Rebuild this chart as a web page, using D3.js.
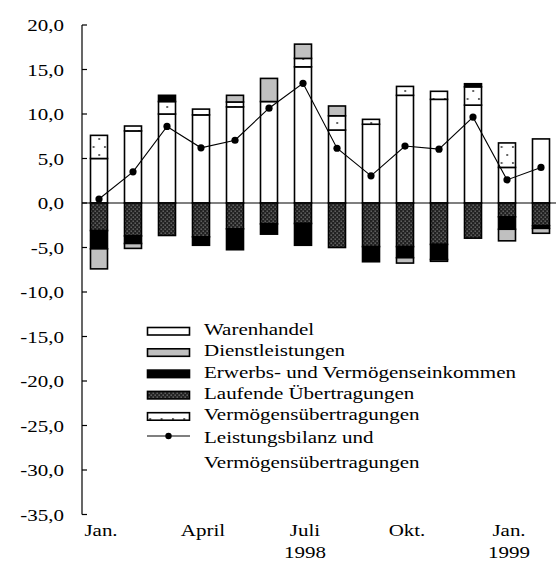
<!DOCTYPE html>
<html>
<head>
<meta charset="utf-8">
<script src="https://cdn.jsdelivr.net/npm/d3@7"></script>
<style>
  body { margin: 0; background: #fff; }
  text { font-family: "Liberation Serif", "Times New Roman", serif; font-size: 17.5px; fill: #000; }
</style>
</head>
<body>
<div id="chart"></div>
<script>
// months Jan 1998 - Feb 1999
var months = ["Jan 98","Feb 98","Mär 98","Apr 98","Mai 98","Jun 98","Jul 98","Aug 98","Sep 98","Okt 98","Nov 98","Dez 98","Jan 99","Feb 99"];

// Mrd DM
var warenhandel   = [5.0, 8.1, 10.0, 9.9, 10.8, 11.4, 15.3, 8.2, 8.85, 12.1, 11.65, 11.0, 4.0, 7.2];
var vermoegen     = [2.6, 0.55, 1.4, 0.65, 0.55, 0, 0.95, 1.6, 0.55, 1.0, 0.9, 2.05, 2.75, 0];
var laufende      = [-3.1, -3.7, -3.65, -3.8, -2.9, -2.35, -2.3, -5.0, -4.9, -4.9, -4.65, -3.95, -1.55, -2.55];
var erwerbs       = [-2.05, -0.85, 0.7, -0.95, -2.35, -1.15, -2.45, 0, -1.7, -1.25, -1.7, 0.35, -1.4, -0.3];
var dienst        = [-2.25, -0.55, 0, 0, 0.75, 2.6, 1.6, 1.1, 0, -0.6, -0.2, 0, -1.3, -0.55];
var saldo         = [0.45, 3.5, 8.6, 6.2, 7.05, 10.65, 13.45, 6.15, 3.05, 6.4, 6.05, 9.65, 2.6, 4.0];

var yTicks = [20, 15, 10, 5, 0, -5, -10, -15, -20, -25, -30, -35];
var tickMonths = ["Jan 98","Apr 98","Jul 98","Okt 98","Jan 99"];
var tickText   = ["Jan.","April","Juli","Okt.","Jan."];
var yearMonths = ["Jul 98","Jan 99"];
var yearText   = ["1998","1999"];

var legendNames = ["Warenhandel","Dienstleistungen","Erwerbs- und Vermögenseinkommen","Laufende Übertragungen","Vermögensübertragungen"];
var legendKeys  = ["waren","dienst","erw","lauf","verm"];

var width = 556, height = 564;
var svg = d3.select("#chart").append("svg")
    .attr("width", width).attr("height", height);

var defs = svg.append("defs");
// dark dotted pattern for Laufende Übertragungen
var pl = defs.append("pattern").attr("id", "pLauf")
    .attr("patternUnits", "userSpaceOnUse").attr("width", 4).attr("height", 4);
pl.append("rect").attr("width", 4).attr("height", 4).attr("fill", "#222");
pl.append("rect").attr("x", 0.6).attr("y", 0.6).attr("width", 1.1).attr("height", 1.1).attr("fill", "#9a9a9a");
pl.append("rect").attr("x", 2.6).attr("y", 2.6).attr("width", 1.1).attr("height", 1.1).attr("fill", "#9a9a9a");
// sparse dots for Vermögensübertragungen
var pv = defs.append("pattern").attr("id", "pVerm")
    .attr("patternUnits", "userSpaceOnUse").attr("width", 34 / 3).attr("height", 16)
    .attr("x", 92.6).attr("y", 2);
pv.append("rect").attr("width", 34 / 3).attr("height", 16).attr("fill", "#fff");
pv.append("rect").attr("x", 0).attr("y", 0).attr("width", 2).attr("height", 2).attr("fill", "#666");
pv.append("rect").attr("x", 17 / 3).attr("y", 8).attr("width", 2).attr("height", 2).attr("fill", "#666");

var fills = { waren: "#fff", verm: "url(#pVerm)", lauf: "url(#pLauf)", erw: "#000", dienst: "#c0c0c0" };

var x = d3.scaleBand().domain(months).range([82, 558]).paddingInner(0.5).paddingOuter(0.25);
var y = d3.scaleLinear().domain([-35, 20]).range([514.5, 25]);

// scaled serif label (source type is a bit wider than Times)
function label(g, px, py, txt, anchor) {
  g.append("text")
    .attr("transform", "translate(" + px + "," + py + ") scale(1.2,1)")
    .attr("text-anchor", anchor || "start")
    .text(txt);
}

// y axis
var ax = svg.append("g");
ax.append("line").attr("x1", 82).attr("x2", 82).attr("y1", y(20)).attr("y2", y(-35))
    .attr("stroke", "#000").attr("stroke-width", 1.2);
yTicks.forEach(function(t) {
  ax.append("line").attr("x1", 82).attr("x2", 87).attr("y1", y(t)).attr("y2", y(t))
    .attr("stroke", "#000").attr("stroke-width", 1.2);
  label(ax, 64, y(t) + 6, d3.format(".1f")(t).replace(".", ",").replace("−", "-"), "end");
});

// zero line with ticks between months
ax.append("line").attr("x1", 82).attr("x2", 556).attr("y1", y(0)).attr("y2", y(0))
    .attr("stroke", "#000").attr("stroke-width", 1.2);
months.forEach(function(m, i) {
  if (i == 0) return;
  var bx = x(m) - x.step() * x.paddingInner() / 2 - x.bandwidth() / 2;
  ax.append("line").attr("x1", bx).attr("x2", bx).attr("y1", y(0)).attr("y2", y(0) + 3)
    .attr("stroke", "#000").attr("stroke-width", 1);
});

// stacked bars
var table = months.map(function(m, i) {
  return { month: m, waren: warenhandel[i], verm: vermoegen[i], lauf: laufende[i], erw: erwerbs[i], dienst: dienst[i] };
});
var series = d3.stack().keys(["waren","verm","lauf","erw","dienst"])
    .offset(d3.stackOffsetDiverging)(table);

svg.append("g").selectAll("g")
  .data(series)
  .enter().append("g")
    .attr("fill", function(s) { return fills[s.key]; })
  .selectAll("rect")
  .data(function(s) { return s.filter(function(d) { return Math.abs(d[1] - d[0]) > 0.001; }); })
  .enter().append("rect")
    .attr("x", function(d) { return x(d.data.month); })
    .attr("width", x.bandwidth())
    .attr("y", function(d) { return y(Math.max(d[0], d[1])); })
    .attr("height", function(d) { return Math.abs(y(d[0]) - y(d[1])); })
    .attr("stroke", "#000").attr("stroke-width", 1.6);

// line
var line = d3.line()
    .x(function(d, i) { return x(months[i]) + x.bandwidth() / 2; })
    .y(function(d) { return y(d); });
svg.append("path").datum(saldo).attr("d", line)
    .attr("fill", "none").attr("stroke", "#000").attr("stroke-width", 1.1);
svg.append("g").selectAll("circle").data(saldo).enter().append("circle")
    .attr("cx", function(d, i) { return x(months[i]) + x.bandwidth() / 2; })
    .attr("cy", function(d) { return y(d); })
    .attr("r", 3.6).attr("fill", "#000");

// x labels
var xl = svg.append("g");
tickMonths.forEach(function(m, i) {
  label(xl, x(m) + x.bandwidth() / 2 + 2, 536, tickText[i], "middle");
});
yearMonths.forEach(function(m, i) {
  label(xl, x(m) + x.bandwidth() / 2 + 2, 558, yearText[i], "middle");
});

// legend
var lg = svg.append("g");
legendKeys.forEach(function(k, i) {
  var by = 335 + i * 21.3;
  lg.append("rect").attr("x", 147.5).attr("y", by - 7.5).attr("width", 42).attr("height", 7.5)
    .attr("fill", fills[k]).attr("stroke", "#000").attr("stroke-width", 1.6);
  label(lg, 204, by, legendNames[i]);
});
lg.append("line").attr("x1", 147).attr("x2", 190).attr("y1", 436).attr("y2", 436)
    .attr("stroke", "#000").attr("stroke-width", 1.1);
lg.append("circle").attr("cx", 168.5).attr("cy", 436).attr("r", 3.2).attr("fill", "#000");
label(lg, 204, 442.5, "Leistungsbilanz und");
label(lg, 204, 468, "Vermögensübertragungen");
</script>
</body>
</html>
